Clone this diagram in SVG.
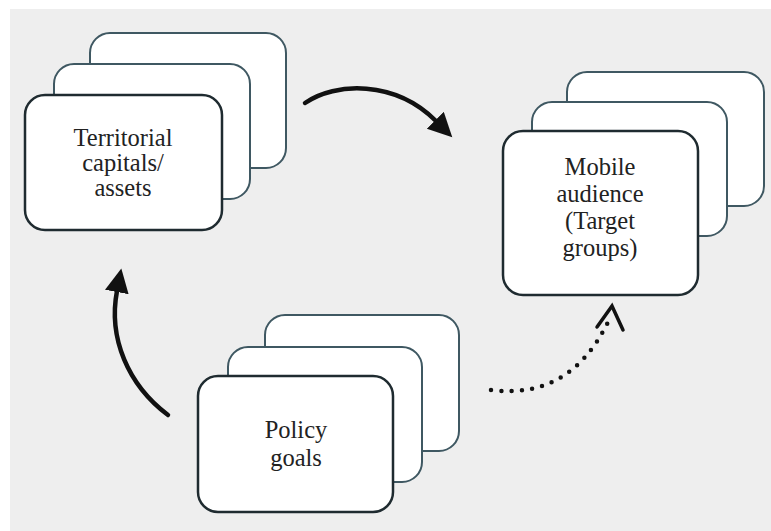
<svg xmlns="http://www.w3.org/2000/svg" width="771" height="531" viewBox="0 0 771 531">
  <style>
    .back { fill: #ffffff; stroke: #3f5862; stroke-width: 2; }
    .front { fill: #ffffff; stroke: #1f2b30; stroke-width: 2.5; }
    .lbl { font-family: "Liberation Serif", "Times New Roman", serif; font-size: 24.5px; fill: #222222; text-anchor: middle; }
    .arrow { fill: none; stroke: #111111; stroke-width: 4.5; stroke-linecap: round; }
    .dots { fill: none; stroke: #111111; stroke-width: 4.5; stroke-linecap: round; stroke-dasharray: 0 10.3; }
  </style>
  <defs>
    <marker id="head" markerUnits="userSpaceOnUse" markerWidth="26" markerHeight="26" refX="1" refY="12" orient="auto">
      <path d="M0,0 L24,12 L0,24 z" fill="#111111"/>
    </marker>
  </defs>
  <rect x="0" y="0" width="771" height="531" fill="#ffffff"/>
  <rect x="10" y="9" width="761" height="522" fill="#eeeeee"/>

  <g id="territorial">
    <rect class="back" x="90" y="33" width="196" height="135" rx="20"/>
    <rect class="back" x="54" y="64" width="196" height="135" rx="20"/>
    <rect class="front" x="25" y="95" width="197" height="135" rx="20"/>
    <text class="lbl" x="123" y="145.5">Territorial</text>
    <text class="lbl" x="123" y="171">capitals/</text>
    <text class="lbl" x="123" y="195.5">assets</text>
  </g>

  <g id="mobile">
    <rect class="back" x="567" y="72" width="197" height="134" rx="20"/>
    <rect class="back" x="532" y="102" width="195" height="134" rx="20"/>
    <rect class="front" x="503" y="131" width="195" height="164" rx="20"/>
    <text class="lbl" x="600" y="175">Mobile</text>
    <text class="lbl" x="600" y="202">audience</text>
    <text class="lbl" x="600" y="229">(Target</text>
    <text class="lbl" x="600" y="256">groups)</text>
  </g>

  <g id="policy">
    <rect class="back" x="265" y="315" width="194" height="136" rx="20"/>
    <rect class="back" x="228" y="347" width="194" height="135" rx="20"/>
    <rect class="front" x="198" y="376" width="195" height="136" rx="20"/>
    <text class="lbl" x="296" y="438">Policy</text>
    <text class="lbl" x="296" y="466">goals</text>
  </g>

  <g id="connectors">
    <path class="arrow" d="M305,103 C335,82 395,80 436,121" marker-end="url(#head)"/>
    <path class="arrow" d="M168,415 C128,385 108,338 117,291" marker-end="url(#head)"/>
    <path class="dots" d="M491,390 Q570,400 608,322"/>
    <polyline points="597,327 612,306 623,330" fill="none" stroke="#111111" stroke-width="3.5" stroke-linecap="round" stroke-linejoin="miter"/>
  </g>
</svg>
